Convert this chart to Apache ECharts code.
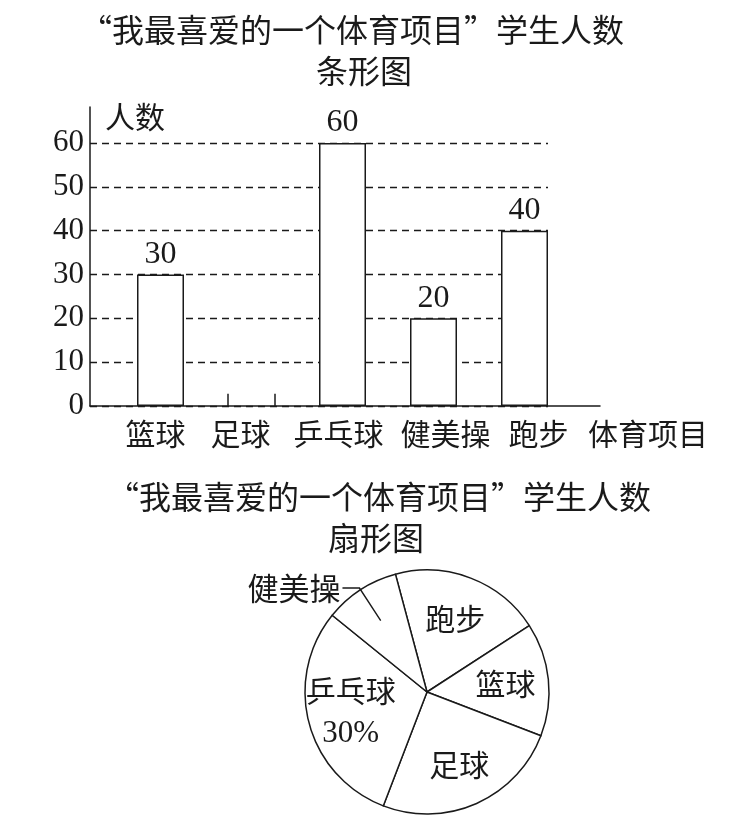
<!DOCTYPE html>
<html>
<head>
<meta charset="utf-8">
<script src="https://cdn.jsdelivr.net/npm/echarts@6/dist/echarts.min.js"></script>
<style>
html,body{margin:0;padding:0;background:#fff;}
#chart{width:753px;height:834px;}
</style>
</head>
<body>
<div id="chart"></div>
<script>
// ---- data ----
const titleMain = '“我最喜爱的一个体育项目”学生人数';
const barTitleSub = '条形图';
const pieTitleSub = '扇形图';
const categories = ['篮球', '足球', '乒乓球', '健美操', '跑步'];
const barValues = [30, null, 60, 20, 40];
const stubMarks = [['足球', 2.8]];
const yTicks = [0, 10, 20, 30, 40, 50, 60];
const yAxisName = '人数';
const xAxisName = '体育项目';
const pieNames = ['跑步', '篮球', '足球', '乒乓球', '健美操'];
const pieValues = [40, 30, 50, 60, 20];

const CJK = '"Noto Sans CJK SC", sans-serif';
const SERIF = '"Liberation Serif", "DejaVu Serif", serif';
const INK = '#1a1a1a';

// horizontal nudges of category labels (px)
const labelShift = [-5, -11, -4, 12, 14];
const richCat = {};
labelShift.forEach((d, i) => {
  richCat['c' + i] = {fontFamily: CJK, fontSize: 30, color: INK,
    padding: d >= 0 ? [0, 0, 0, 2 * d] : [0, -2 * d, 0, 0]};
});

const chart = echarts.init(document.getElementById('chart'), null, {renderer: 'canvas'});

const pieData = pieNames.map((n, i) => ({name: n, value: pieValues[i]}));

const option = {
  backgroundColor: '#fff',
  animation: false,
  graphic: [
    {type: 'text', x: 352, y: 30, style: {text: titleMain, font: '32px ' + CJK, fill: INK, textAlign: 'center', textVerticalAlign: 'middle'}},
    {type: 'text', x: 364, y: 71, style: {text: barTitleSub, font: '32px ' + CJK, fill: INK, textAlign: 'center', textVerticalAlign: 'middle'}},
    {type: 'text', x: 379, y: 497, style: {text: titleMain, font: '32px ' + CJK, fill: INK, textAlign: 'center', textVerticalAlign: 'middle'}},
    {type: 'text', x: 376, y: 538, style: {text: pieTitleSub, font: '32px ' + CJK, fill: INK, textAlign: 'center', textVerticalAlign: 'middle'}}
  ],
  grid: [
    {left: 90, top: 143, width: 458, height: 263},
    {left: 90, top: 107, width: 510, height: 299},
    {left: 115, top: 143, width: 455, height: 263}
  ],
  xAxis: [
    {gridIndex: 0, type: 'value', show: false, min: 0, max: 1},
    {gridIndex: 1, type: 'value', min: 0, max: 1,
      axisLine: {show: true, lineStyle: {color: INK, width: 1.5}},
      axisTick: {show: false}, axisLabel: {show: false}, splitLine: {show: false},
      name: xAxisName, nameLocation: 'end', nameGap: -12,
      nameTextStyle: {fontFamily: CJK, fontSize: 30, color: INK, align: 'left', verticalAlign: 'top', padding: [13, 0, 0, 0]}
    },
    {gridIndex: 2, type: 'category', data: categories,
      axisLine: {show: false}, axisTick: {show: false},
      axisLabel: {fontFamily: CJK, fontSize: 30, color: INK, margin: 13, interval: 0,
        formatter: function (v, i) { return '{c' + i + '|' + v + '}'; }, rich: richCat}
    }
  ],
  yAxis: [
    {gridIndex: 0, type: 'value', min: yTicks[0], max: yTicks[yTicks.length - 1], interval: yTicks[1] - yTicks[0],
      axisLine: {show: false}, axisTick: {show: false},
      axisLabel: {fontFamily: SERIF, fontSize: 31, color: INK, margin: 6},
      splitLine: {show: true, lineStyle: {color: INK, width: 1.3, type: [7, 5]}}
    },
    {gridIndex: 1, type: 'value', min: 0, max: 1,
      axisLine: {show: true, lineStyle: {color: INK, width: 1.5}},
      axisTick: {show: false}, axisLabel: {show: false}, splitLine: {show: false},
      name: yAxisName, nameLocation: 'end', nameGap: -10,
      nameTextStyle: {fontFamily: CJK, fontSize: 30, color: INK, align: 'left', verticalAlign: 'middle', padding: [0, 0, 0, 15]}
    },
    {gridIndex: 2, type: 'value', show: false, min: yTicks[0], max: yTicks[yTicks.length - 1]}
  ],
  series: [
    {
      type: 'bar', xAxisIndex: 2, yAxisIndex: 2, data: barValues, barWidth: 47,
      itemStyle: {color: '#fff', borderColor: INK, borderWidth: 1.5},
      label: {show: true, position: 'top', distance: 4, fontFamily: SERIF, fontSize: 32, color: INK},
      silent: true
    },
    {
      type: 'custom', xAxisIndex: 2, yAxisIndex: 2, data: stubMarks, silent: true,
      renderItem: function (params, api) {
        const top = api.coord([api.value(0), api.value(1)]);
        const base = api.coord([api.value(0), 0]);
        const half = 47 / 2;
        const st = {stroke: INK, lineWidth: 1.5};
        return {type: 'group', children: [
          {type: 'line', shape: {x1: top[0] - half, y1: top[1], x2: top[0] - half, y2: base[1]}, style: st},
          {type: 'line', shape: {x1: top[0] + half, y1: top[1], x2: top[0] + half, y2: base[1]}, style: st}
        ]};
      }
    },
    {
      type: 'pie', z: 1, center: [427, 692], radius: 122, startAngle: 105, clockwise: true,
      data: pieData, silent: true, label: {show: false}, labelLine: {show: false},
      itemStyle: {color: '#fff', borderColor: INK, borderWidth: 1.5}
    },
    {
      type: 'pie', z: 5, center: [427, 692], radius: [30, 122], startAngle: 105, clockwise: true,
      data: pieData.map(d => Object.assign({}, d, {label: {show: d.name !== '健美操'}})), silent: true,
      itemStyle: {color: 'rgba(0,0,0,0)', borderWidth: 0},
      labelLine: {show: false},
      label: {
        show: true, position: 'inside',
        formatter: function (p) {
          return p.name === '乒乓球' ? '{a|' + p.name + '}\n{b|' + Math.round(p.percent) + '%}' : '{a|' + p.name + '}';
        },
        rich: {
          a: {fontFamily: CJK, fontSize: 30, color: INK, lineHeight: 43},
          b: {fontFamily: SERIF, fontSize: 31, color: INK, lineHeight: 43}
        }
      }
    },
    {
      type: 'pie', z: 5, center: [427, 692], radius: 85, startAngle: 105, clockwise: true,
      data: pieData.map(d => Object.assign({}, d, {label: {show: d.name === '健美操'}, labelLine: {show: d.name === '健美操'}})),
      silent: true, avoidLabelOverlap: false,
      itemStyle: {color: 'rgba(0,0,0,0)', borderWidth: 0},
      label: {position: 'outside', fontFamily: CJK, fontSize: 31, color: INK, distanceToLabelLine: 2},
      labelLine: {length: 39, length2: 17, smooth: false, lineStyle: {color: INK, width: 1.4}}
    }
  ]
};
chart.setOption(option);
</script>
</body>
</html>
